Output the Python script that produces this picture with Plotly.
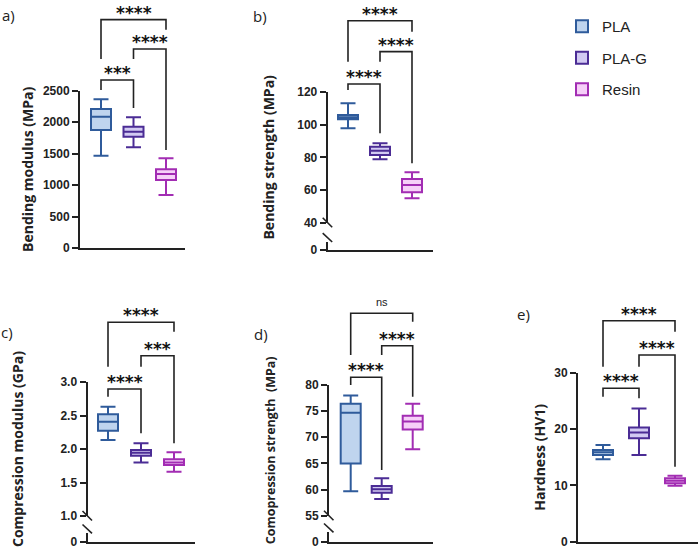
import plotly.graph_objects as go

W, H = 700, 550

groups = ["PLA", "PLA-G", "Resin"]
line_colors = ["#2f5b9b", "#4b2c95", "#a22db3"]
fill_colors = ["#bfd4ee", "#d2caf2", "#f6d0f8"]

# a) Bending modulus (MPa)
a_low = [1467, 1600, 842]
a_q1 = [1875, 1769, 1081]
a_med = [2087, 1849, 1176]
a_q3 = [2209, 1928, 1250]
a_high = [2363, 2077, 1425]

# b) Bending strength (MPa)
b_low = [97.8, 78.8, 54.9]
b_q1 = [103.3, 81.4, 58.6]
b_med = [104.6, 84.1, 63.1]
b_q3 = [105.9, 86.5, 66.7]
b_high = [113.1, 88.6, 70.9]

# c) Compression modulus (GPa)
c_low = [2.134, 1.80, 1.66]
c_q1 = [2.273, 1.90, 1.761]
c_med = [2.407, 1.945, 1.80]
c_q3 = [2.518, 1.985, 1.846]
c_high = [2.631, 2.085, 1.95]

# d) Compression strength (MPa)
d_low = [59.7, 58.2, 67.7]
d_q1 = [65.0, 59.4, 71.5]
d_med = [74.7, 60.05, 73.0]
d_q3 = [76.4, 60.7, 74.1]
d_high = [78.0, 62.15, 76.4]

# e) Hardness (HV1)
e_low = [14.65, 15.4, 9.96]
e_q1 = [15.4, 18.4, 10.4]
e_med = [15.9, 19.4, 10.85]
e_q3 = [16.3, 20.3, 11.27]
e_high = [17.2, 23.7, 11.74]

# significance comparisons: (PLA,PLA-G), (PLA-G,Resin), (PLA,Resin)
pairs = [(0, 1), (1, 2), (0, 2)]
a_sig = ["***", "****", "****"]
a_top = [2670, 3163, 3630]
a_legs = [(2511, 2225), (3004, 1557), (3004, 3470)]
b_sig = ["****", "****", "****"]
b_top = [124.9, 144.7, 163.6]
b_legs = [(121.2, 94.7), (138.5, 76.4), (138.5, 156.9)]
c_sig = ["****", "***", "****"]
c_top = [2.895, 3.392, 3.891]
c_legs = [(2.78, 2.234), (3.228, 2.085), (3.228, 3.751)]
d_sig = ["****", "****", "ns"]
d_top = [81.47, 87.52, 93.72]
d_legs = [(80.0, 63.74), (85.74, 77.76), (85.74, 92.11)]
e_sig = ["****", "****", "****"]
e_top = [27.28, 33.2, 39.3]
e_legs = [(25.78, 25.5), (31.12, 13.34), (31.12, 37.34)]

a_ticks = [0, 500, 1000, 1500, 2000, 2500]
b_ticks = [40, 60, 80, 100, 120]
c_ticks = [1.0, 1.5, 2.0, 2.5, 3.0]
c_ticktext = ["1.0", "1.5", "2.0", "2.5", "3.0"]
d_ticks = [55, 60, 65, 70, 75, 80]
e_ticks = [0, 10, 20, 30]

panels = [
    dict(label="a)", label_px=(8, 15), title="Bending modulus (MPa)", standoff=6, tsize=14,
         stats=(a_low, a_q1, a_med, a_q3, a_high), sig=a_sig, top=a_top, legs=a_legs,
         xdom=(80, 185), spacing=32.5, first=101, ydom=(90.7, 248), yrange=(0, 2500),
         ticks=a_ticks, ticktext=None, lower=None),
    dict(label="b)", label_px=(260, 16), title="Bending strength (MPa)", standoff=19, tsize=14,
         stats=(b_low, b_q1, b_med, b_q3, b_high), sig=b_sig, top=b_top, legs=b_legs,
         xdom=(327.7, 433), spacing=32, first=348, ydom=(92, 222.7), yrange=(40, 120),
         ticks=b_ticks, ticktext=None, lower=(241.7, 250)),
    dict(label="c)", label_px=(7, 332), title="Compression modulus (GPa)", standoff=34, tsize=14,
         stats=(c_low, c_q1, c_med, c_q3, c_high), sig=c_sig, top=c_top, legs=c_legs,
         xdom=(87.5, 195), spacing=33, first=108, ydom=(382, 516), yrange=(1, 3),
         ticks=c_ticks, ticktext=c_ticktext, lower=(533, 541.7)),
    dict(label="d)", label_px=(261, 334), title="Comopression strength\u00a0 (MPa)", standoff=27,
         tsize=12.5,
         stats=(d_low, d_q1, d_med, d_q3, d_high), sig=d_sig, top=d_top, legs=d_legs,
         xdom=(329, 433), spacing=31, first=350.7, ydom=(385, 515.7), yrange=(55, 80),
         ticks=d_ticks, ticktext=None, lower=(532, 541.7)),
    dict(label="e)", label_px=(523, 314), title="Hardness (HV1)", standoff=5, tsize=14,
         stats=(e_low, e_q1, e_med, e_q3, e_high), sig=e_sig, top=e_top, legs=e_legs,
         xdom=(578, 698), spacing=36, first=603, ydom=(373, 541.7), yrange=(0, 30),
         ticks=e_ticks, ticktext=None, lower=None),
]

INK = "#222222"
tick_font = dict(family="Liberation Sans, Arial", size=12, color=INK, weight="bold")


def pxx(px):
    return px / W


def pxy(py):
    return 1 - py / H


fig = go.Figure()
shapes = []
annotations = []
yi = 1
for pi, p in enumerate(panels):
    xn = "" if pi == 0 else str(pi + 1)
    xname = "x" + xn
    yname_up = "y" + ("" if yi == 1 else str(yi))
    up_id = yi
    yi += 1
    low_id = None
    if p["lower"] is not None:
        low_id = yi
        yi += 1
    xr0 = (p["xdom"][0] - p["first"]) / p["spacing"]
    xr1 = (p["xdom"][1] - p["first"]) / p["spacing"]
    bw = 20.0 / p["spacing"]
    low, q1, med, q3, high = p["stats"]
    for g in range(3):
        fig.add_trace(go.Box(
            x=[g], lowerfence=[low[g]], q1=[q1[g]], median=[med[g]], q3=[q3[g]],
            upperfence=[high[g]], name=groups[g], legendgroup=groups[g],
            showlegend=(pi == 0), width=bw, whiskerwidth=0.75,
            line=dict(color=line_colors[g], width=2), fillcolor=fill_colors[g],
            boxpoints=False, xaxis=xname, yaxis=yname_up, hoverinfo="skip",
        ))
    xkey = "xaxis" + xn
    ykey_up = "yaxis" + ("" if up_id == 1 else str(up_id))
    anchor_y = "y" + str(low_id) if low_id else yname_up
    fig.layout[xkey] = dict(
        domain=[pxx(p["xdom"][0]), pxx(p["xdom"][1])], range=[xr0, xr1],
        anchor=anchor_y, showline=True, linecolor=INK, linewidth=2, automargin=False,
        showticklabels=False, ticks="", showgrid=False, zeroline=False, fixedrange=True,
    )
    yax = dict(
        domain=[pxy(p["ydom"][1]), pxy(p["ydom"][0])], range=list(p["yrange"]),
        anchor=xname, showline=True, linecolor=INK, linewidth=2, automargin=False,
        ticks="outside", ticklen=6, tickwidth=2, tickcolor=INK,
        tickvals=p["ticks"], tickfont=tick_font, showgrid=False, zeroline=False,
        fixedrange=True,
        title=dict(text=p["title"], standoff=p["standoff"],
                   font=dict(family="Open Sans", size=p["tsize"], color=INK, weight="bold")),
    )
    if p["ticktext"]:
        yax["ticktext"] = p["ticktext"]
    fig.layout[ykey_up] = yax
    if low_id:
        lname = "y" + str(low_id)
        fig.layout["yaxis" + str(low_id)] = dict(
            domain=[pxy(p["lower"][1]), pxy(p["lower"][0])], range=[0, 1],
            anchor=xname, showline=True, linecolor=INK, linewidth=2, automargin=False,
            ticks="outside", ticklen=6, tickwidth=2, tickcolor=INK,
            tickvals=[0], ticktext=["0"], tickfont=tick_font, showgrid=False,
            zeroline=False, fixedrange=True,
        )
        # empty trace so the lower (broken) axis segment is drawn
        fig.add_trace(go.Scatter(x=[None], y=[None], xaxis=xname, yaxis=lname,
                                 showlegend=False, hoverinfo="skip", mode="lines"))
        ax = p["xdom"][0]
        pyu = p["ydom"][1]
        pyl = p["lower"][0]
        for (y0, y1) in [(pyu - 5, pyu + 4.5), (pyl - 8.5, pyl + 0.3)]:
            shapes.append(dict(type="line", xref="paper", yref="paper",
                               x0=pxx(ax - 5), y0=pxy(y0), x1=pxx(ax + 4.5), y1=pxy(y1),
                               line=dict(color=INK, width=1.6)))

    # data -> paper helpers (extrapolating the axis scale above the plot)
    def dx(v, p=p, xr0=xr0, xr1=xr1):
        f = (v - xr0) / (xr1 - xr0)
        return pxx(p["xdom"][0] + f * (p["xdom"][1] - p["xdom"][0]))

    def dy(v, p=p):
        r0, r1 = p["yrange"]
        f = (v - r0) / (r1 - r0)
        return pxy(p["ydom"][1] - f * (p["ydom"][1] - p["ydom"][0]))

    for k, (i, j) in enumerate(pairs):
        t = p["top"][k]
        lb, rb = p["legs"][k]
        path = "M {:.5f},{:.5f} L {:.5f},{:.5f} L {:.5f},{:.5f} L {:.5f},{:.5f}".format(
            dx(i), dy(lb), dx(i), dy(t), dx(j), dy(t), dx(j), dy(rb))
        shapes.append(dict(type="path", xref="paper", yref="paper", path=path,
                           line=dict(color=INK, width=1.6)))
        s = p["sig"][k]
        if s == "ns":
            annotations.append(dict(
                x=(dx(i) + dx(j)) / 2, y=dy(t), xref="paper", yref="paper",
                text=s, showarrow=False, xanchor="center", yanchor="bottom", yshift=3,
                font=dict(family="Liberation Sans, Arial", size=11, color=INK)))
        else:
            annotations.append(dict(
                x=(dx(i) + dx(j)) / 2, y=dy(t), xref="paper", yref="paper",
                text=s, showarrow=False, xanchor="center", yanchor="bottom", yshift=-4,
                borderpad=0,
                font=dict(family="DejaVu Sans", size=17, color="#111111", weight="bold")))

    lx, ly = p["label_px"]
    annotations.append(dict(
        x=pxx(lx), y=pxy(ly), xref="paper", yref="paper", text=p["label"],
        showarrow=False, xanchor="center", yanchor="middle",
        font=dict(family="Open Sans", size=15, color=INK)))

fig.update_layout(
    width=W, height=H, autosize=False,
    margin=dict(l=0, r=0, t=0, b=0, pad=0, autoexpand=False),
    paper_bgcolor="white", plot_bgcolor="white",
    shapes=shapes, annotations=annotations,
    showlegend=True,
    legend=dict(x=pxx(562), y=pxy(10), xanchor="left", yanchor="top",
                font=dict(family="Liberation Sans, Arial", size=15, color=INK),
                tracegroupgap=9, bgcolor="rgba(0,0,0,0)", traceorder="grouped"),
)

fig.write_html("out.html", config={"displayModeBar": False, "responsive": False},
               post_script="document.body.style.margin='0';")
